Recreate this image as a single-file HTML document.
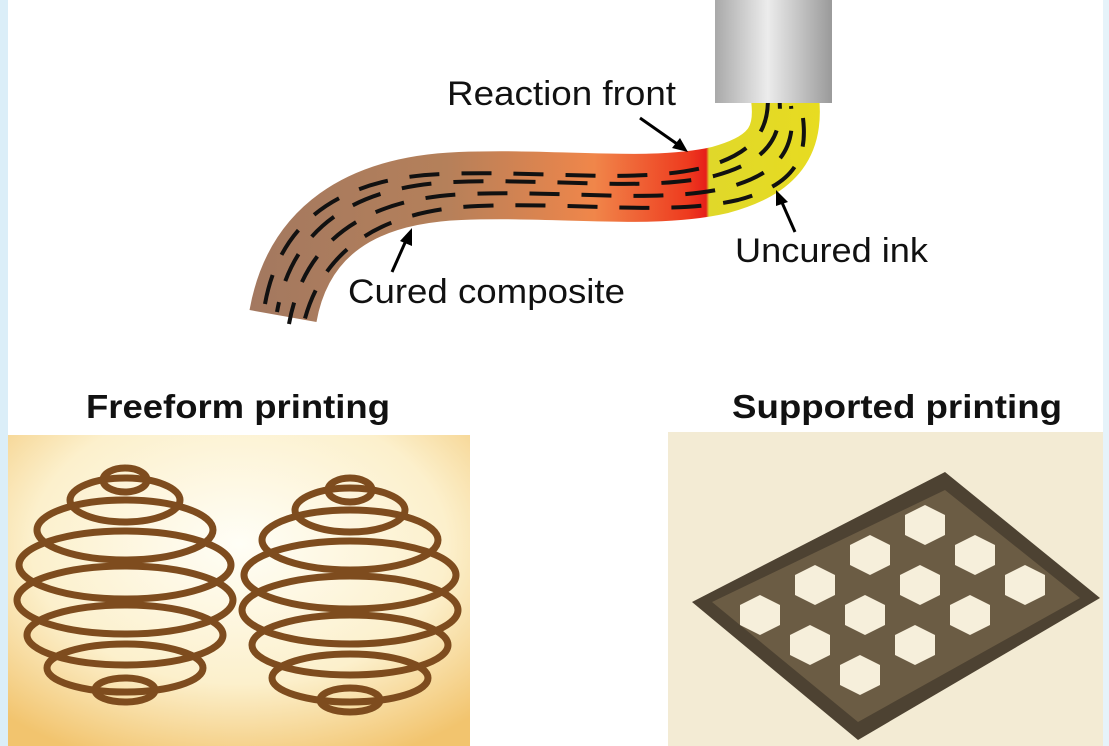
<!DOCTYPE html>
<html><head><meta charset="utf-8"><style>
html,body{margin:0;padding:0;background:#fff;}
svg{display:block;}
text{font-family:"Liberation Sans",Arial,sans-serif;}
</style></head><body>
<svg width="1109" height="746" viewBox="0 0 1109 746" xmlns="http://www.w3.org/2000/svg">
<defs>
<linearGradient id="noz" x1="0" x2="1" y1="0" y2="0">
<stop offset="0" stop-color="#a9a9a9"/><stop offset="0.45" stop-color="#ececec"/><stop offset="1" stop-color="#9a9a9a"/>
</linearGradient>
<linearGradient id="tube" gradientUnits="userSpaceOnUse" x1="240" y1="0" x2="830" y2="0">
<stop offset="0" stop-color="#a27860"/>
<stop offset="0.35" stop-color="#b5805a"/>
<stop offset="0.6" stop-color="#f0864a"/>
<stop offset="0.76" stop-color="#ee3a1e"/>
<stop offset="0.79" stop-color="#e6201a"/>
<stop offset="0.795" stop-color="#e0d82a"/>
<stop offset="1" stop-color="#e8dc20"/>
</linearGradient>
<radialGradient id="lp" cx="0.5" cy="0.35" r="0.75">
<stop offset="0" stop-color="#fffef6"/><stop offset="0.6" stop-color="#fcf0cc"/><stop offset="1" stop-color="#f2c46e"/>
</radialGradient>
</defs>
<rect x="0" y="0" width="8" height="746" fill="#dbeef8"/>
<rect x="1103" y="0" width="6" height="746" fill="#e6f3fa"/>
<!-- tube -->
<path d="M283,316 C298,232 360,190 460,186 C560,182 650,196 720,180 C775,165 790,140 785,98" fill="none" stroke="url(#tube)" stroke-width="68"/>
<g fill="none" stroke="#111" stroke-width="4" stroke-dasharray="30 22">
<path transform="translate(-18,-12)" d="M283,316 C298,232 360,190 460,186 C560,182 650,196 720,180 C775,165 790,140 785,98"/>
<path transform="translate(-6,-4)" d="M283,316 C298,232 360,190 460,186 C560,182 650,196 720,180 C775,165 790,140 785,98" stroke-dashoffset="20"/>
<path transform="translate(6,8)" d="M283,316 C298,232 360,190 460,186 C560,182 650,196 720,180 C775,165 790,140 785,98" stroke-dashoffset="8"/>
<path transform="translate(18,20)" d="M283,316 C298,232 360,190 460,186 C560,182 650,196 720,180 C775,165 790,140 785,98" stroke-dashoffset="34"/>
</g>
<!-- nozzle -->
<rect x="715" y="0" width="117" height="103" fill="url(#noz)"/>
<!-- labels & arrows -->
<g stroke="#000" stroke-width="3" fill="#000">
<line x1="640" y1="118" x2="680" y2="146"/><polygon points="688,152 672,148 680,138" stroke="none"/>
<line x1="392" y1="272" x2="408" y2="236"/><polygon points="412,228 412,246 400,241" stroke="none"/>
<line x1="795" y1="232" x2="780" y2="198"/><polygon points="776,190 788,202 776,206" stroke="none"/>
</g>
<text x="447" y="105" font-size="34" fill="#111" textLength="229" lengthAdjust="spacingAndGlyphs">Reaction front</text>
<text x="348" y="303" font-size="34" fill="#111" textLength="277" lengthAdjust="spacingAndGlyphs">Cured composite</text>
<text x="735" y="262" font-size="34" fill="#111" textLength="193" lengthAdjust="spacingAndGlyphs">Uncured ink</text>
<text x="86" y="418" font-size="33" font-weight="bold" fill="#111" textLength="304" lengthAdjust="spacingAndGlyphs">Freeform printing</text>
<text x="732" y="418" font-size="33" font-weight="bold" fill="#111" textLength="330" lengthAdjust="spacingAndGlyphs">Supported printing</text>
<!-- left photo -->
<rect x="8" y="435" width="462" height="311" fill="url(#lp)"/>
<g fill="none" stroke="#7e4c1e" stroke-width="7">
<ellipse cx="125" cy="480" rx="22" ry="12"/><ellipse cx="125" cy="500" rx="55" ry="22"/>
<ellipse cx="125" cy="530" rx="88" ry="30"/><ellipse cx="125" cy="565" rx="106" ry="34"/>
<ellipse cx="125" cy="600" rx="108" ry="34"/><ellipse cx="125" cy="635" rx="98" ry="30"/>
<ellipse cx="125" cy="668" rx="78" ry="24"/><ellipse cx="125" cy="690" rx="30" ry="12"/>
<ellipse cx="350" cy="490" rx="22" ry="12"/><ellipse cx="350" cy="510" rx="55" ry="22"/>
<ellipse cx="350" cy="540" rx="88" ry="30"/><ellipse cx="350" cy="575" rx="106" ry="34"/>
<ellipse cx="350" cy="610" rx="108" ry="34"/><ellipse cx="350" cy="645" rx="98" ry="30"/>
<ellipse cx="350" cy="678" rx="78" ry="24"/><ellipse cx="350" cy="700" rx="30" ry="12"/>
</g>
<!-- right photo -->
<rect x="668" y="432" width="435" height="314" fill="#f3ebd4"/>
<polygon points="945,472 1100,598 858,740 692,602" fill="#4d4232"/>
<polygon points="945,490 1080,598 858,722 712,602" fill="#6b5c44"/>
<g fill="#f6efdb">
<polygon points="905,515 925,505 945,515 945,535 925,545 905,535"/>
<polygon points="955,545 975,535 995,545 995,565 975,575 955,565"/>
<polygon points="1005,575 1025,565 1045,575 1045,595 1025,605 1005,595"/>
<polygon points="850,545 870,535 890,545 890,565 870,575 850,565"/>
<polygon points="900,575 920,565 940,575 940,595 920,605 900,595"/>
<polygon points="950,605 970,595 990,605 990,625 970,635 950,625"/>
<polygon points="795,575 815,565 835,575 835,595 815,605 795,595"/>
<polygon points="845,605 865,595 885,605 885,625 865,635 845,625"/>
<polygon points="895,635 915,625 935,635 935,655 915,665 895,655"/>
<polygon points="740,605 760,595 780,605 780,625 760,635 740,625"/>
<polygon points="790,635 810,625 830,635 830,655 810,665 790,655"/>
<polygon points="840,665 860,655 880,665 880,685 860,695 840,685"/>
</g>
</svg>
</body></html>
